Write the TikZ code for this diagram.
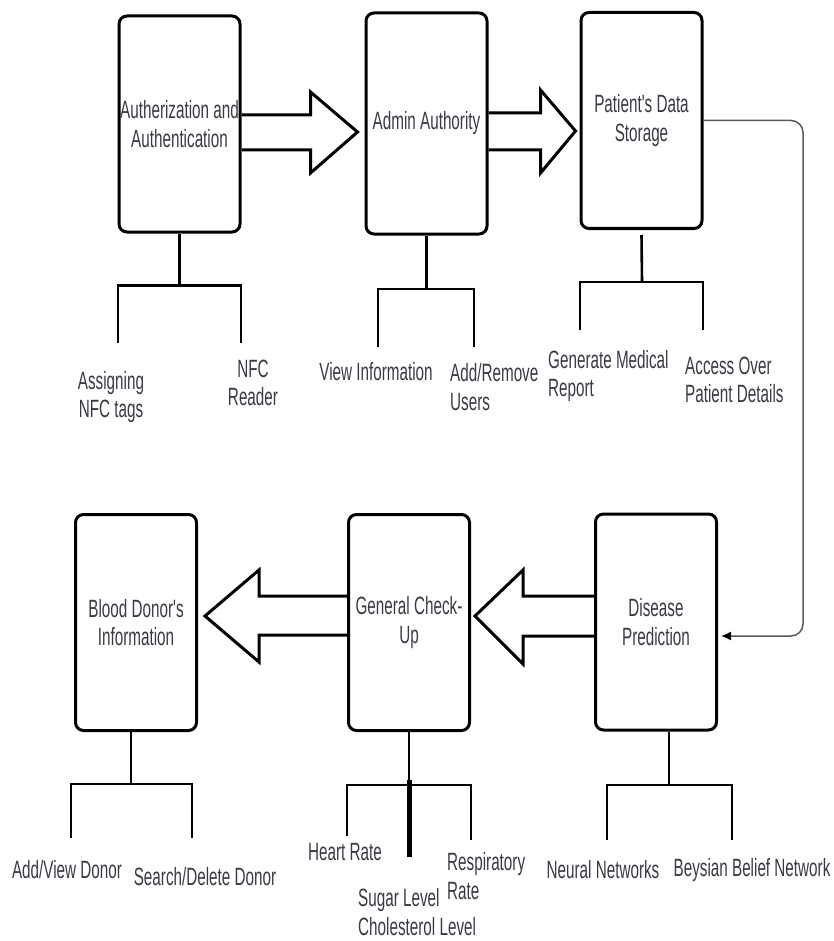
\documentclass[tikz,border=0pt]{standalone}
\usepackage{fontspec}
\newfontfamily\diagfont[FakeStretch=0.61]{Liberation Sans}
\usepackage{xcolor}
\usetikzlibrary{calc}
\usetikzlibrary{arrows.meta}
\definecolor{inkgray}{HTML}{3A3A44}
\tikzset{module/.style={draw, rounded corners=8pt, line width=3pt,
   minimum width=121pt, minimum height=216pt, inner sep=0pt,
   align=center, text=inkgray, font=\diagfont\fontsize{25}{28.5}\selectfont},
 sublabel/.style={align=center, inner sep=0pt, text=inkgray,
   font=\diagfont\fontsize{25}{28.5}\selectfont},
 branch/.style={draw, line width=2.6pt},
 bigarrow/.style={draw, line width=3pt, line join=miter},
 flowline/.style={draw=black!65, line width=1.5pt, rounded corners=12pt,
   -{Latex[length=10pt,width=9pt,color=black]}},
 }

\begin{document}
\begin{tikzpicture}[x=1pt, y=-1pt]
        \useasboundingbox (0,0) rectangle (833,941);
        \node[module] (auth) at (179.5,124) {Autherization and\\Authentication};
        \node[module, minimum height=221pt] (admin) at (426.5,123.5) {Admin Authority};
        \node[module] (patient) at (641.5,120.5) {Patient's Data\\Storage};
        \node[module] (donor) at (136,622.5) {Blood Donor's\\Information};
        \node[module] (checkup) at (409,622.5) {General Check-\\Up};
        \node[module] (disease) at (656,622) {Disease\\Prediction};

        \draw[bigarrow] ($(auth.east)+(0,-9)$) -- ++(69,0) -- ++(0,-23) -- ++(47,40)
            -- ++(-47,41) -- ++(0,-23) -- ++(-69,0);
        \draw[bigarrow] ($(admin.east)+(0,-10.5)$) -- ++(52,0) -- ++(0,-23) -- ++(35,41)
            -- ++(-35,42) -- ++(0,-23) -- ++(-52,0);
        \draw[bigarrow] ($(checkup.west)+(0,-26.5)$) -- ++(-88,0) -- ++(0,-26) -- ++(-54,46)
            -- ++(54,46) -- ++(0,-27) -- ++(88,0);
        \draw[bigarrow] ($(disease.west)+(0,-26)$) -- ++(-71,0) -- ++(0,-26) -- ++(-48,46)
            -- ++(48,48) -- ++(0,-28) -- ++(71,0);

        \coordinate (loopright) at (803,0);
        \coordinate (diseasein) at ($(disease.east)+(3,14)$);
        \draw[flowline] (patient.east) -| (loopright |- diseasein) -- (diseasein);

        \node[sublabel] (assign) at (111,397) {Assigning\\NFC tags};
        \node[sublabel] (reader) at (253,383) {NFC\\Reader};
        \node[sublabel] (viewinfo) at (376,372) {View Information};
        \node[sublabel, align=left, anchor=west] (addremove) at (450,387) {Add/Remove\\Users};
        \node[sublabel, align=left, anchor=west] (genreport) at (548,376) {Generate Medical\\Report};
        \node[sublabel, align=left, anchor=west] (access) at (685,380) {Access Over\\Patient Details};
        \node[sublabel] (addview) at (67,870) {Add/View Donor};
        \node[sublabel] (searchdel) at (205,877) {Search/Delete Donor};
        \node[sublabel] (heart) at (345,852) {Heart Rate};
        \node[sublabel, align=left, anchor=west] (sugar) at (358,912) {Sugar Level\\Cholesterol Level};
        \node[sublabel, align=left, anchor=west] (resp) at (447,876) {Respiratory\\Rate};
        \node[sublabel] (neural) at (603,870) {Neural Networks};
        \node[sublabel] (beysian) at (752,870) {Beysian Belief Network};

        \coordinate (authbar) at (179.5,285.5);
        \coordinate (authleft) at (118,343);
        \coordinate (authright) at (241,343);
        \draw[branch] (auth.south) -- (authbar);
        \draw[branch] (authleft) |- (authbar) -| (authright);

        \coordinate (adminbar) at (426.5,289);
        \coordinate (adminleft) at (378,347);
        \coordinate (adminright) at (474,347);
        \draw[branch] (admin.south) -- (adminbar);
        \draw[branch] (adminleft) |- (adminbar) -| (adminright);

        \coordinate (patientbar) at (642,282);
        \coordinate (patientleft) at (580,330);
        \coordinate (patientright) at (703,330);
        \draw[branch] ([yshift=-5pt]patient.south) -- (patientbar);
        \draw[branch] (patientleft) |- (patientbar) -| (patientright);

        \coordinate (donorbar) at (131,784);
        \coordinate (donorleft) at (71,838);
        \coordinate (donorright) at (192,838);
        \draw[branch] (donorbar |- donor.south) -- (donorbar);
        \draw[branch] (donorleft) |- (donorbar) -| (donorright);

        \coordinate (checkbar) at (409,785);
        \coordinate (checkleft) at (347,836);
        \coordinate (checkright) at (471,840);
        \coordinate (checkmid) at (409,857);
        \draw[branch] (checkup.south) -- (checkbar);
        \draw[branch] (checkleft) |- (checkbar) -| (checkright);
        \draw[branch, line width=5pt] ($(checkbar)+(0,-5)$) -- (checkmid);

        \coordinate (diseasebar) at (669,785);
        \coordinate (diseaseleft) at (607,840);
        \coordinate (diseaseright) at (732,840);
        \draw[branch] (diseasebar |- disease.south) -- (diseasebar);
        \draw[branch] (diseaseleft) |- (diseasebar) -| (diseaseright);
    \end{tikzpicture}
\end{document}
